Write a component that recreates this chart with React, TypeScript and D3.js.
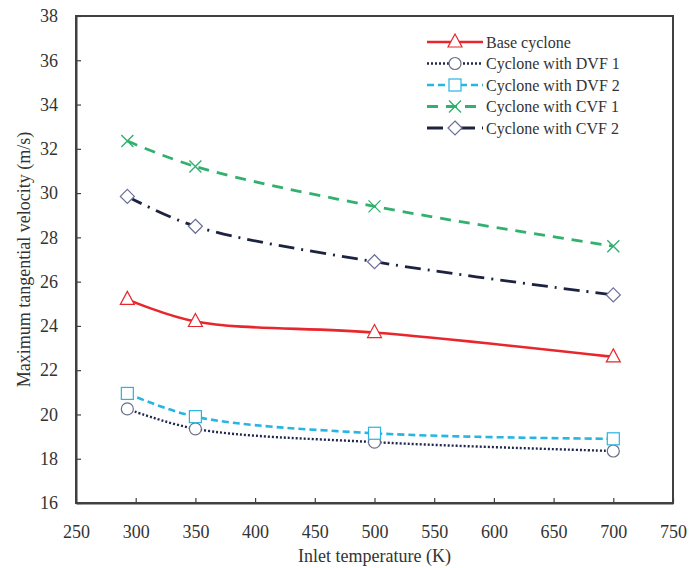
import { useEffect, useRef } from "react";
import * as d3 from "d3";

// inlet temperature (K)
const temps = [293, 350, 500, 700];

// maximum tangential velocity (m/s)
const baseCyclone = [25.2, 24.2, 23.7, 22.6];
const dvf1 = [20.25, 19.35, 18.75, 18.35];
const dvf2 = [20.95, 19.9, 19.15, 18.9];
const cvf1 = [32.35, 31.2, 29.4, 27.6];
const cvf2 = [29.85, 28.5, 26.9, 25.4];

const seriesNames = [
  "Base cyclone",
  "Cyclone with DVF 1",
  "Cyclone with DVF 2",
  "Cyclone with CVF 1",
  "Cyclone with CVF 2",
];

const xTicks = [250, 300, 350, 400, 450, 500, 550, 600, 650, 700, 750];
const yTicks = [16, 18, 20, 22, 24, 26, 28, 30, 32, 34, 36, 38];

const W = 689;
const H = 568;
const FONT = "'Liberation Serif', 'Times New Roman', serif";

const App = () => {
  const svgRef = useRef(null);

  useEffect(() => {
    const svg = d3.select(svgRef.current);
    svg.selectAll("*").remove();

    const margin = { top: 16, right: 16, bottom: 65, left: 76 };
    const width = W - margin.left - margin.right;
    const height = H - margin.top - margin.bottom;

    const x = d3.scaleLinear().domain([250, 750]).range([0, width]);
    const y = d3.scaleLinear().domain([16, 38]).range([height, 0]);

    const g = svg
      .append("g")
      .attr("transform", `translate(${margin.left}, ${margin.top})`);

    const styles = [
      { color: "#e8262b", dash: null, width: 2.6, marker: "triangle", mcolor: "#e8262b" },
      { color: "#1f2750", dash: "2,2", width: 2.4, marker: "circle", mcolor: "#6a6f86" },
      { color: "#27b5e2", dash: "7,4", width: 2.6, marker: "square", mcolor: "#27b5e2" },
      { color: "#32b070", dash: "11,8", width: 2.8, marker: "x", mcolor: "#32b070" },
      { color: "#1c2340", dash: "16,7,2,7", width: 2.8, marker: "diamond", mcolor: "#6a6f96" },
    ];
    const allValues = [baseCyclone, dvf1, dvf2, cvf1, cvf2];

    const line = d3
      .line()
      .x((d) => x(d[0]))
      .y((d) => y(d[1]))
      .curve(d3.curveCatmullRom.alpha(0.5));

    const drawMarker = (sel, type, cx, cy, color) => {
      if (type === "triangle") {
        sel
          .append("path")
          .attr("d", `M${cx},${cy - 8}L${cx + 7},${cy + 5}L${cx - 7},${cy + 5}Z`)
          .attr("fill", "#fff")
          .attr("stroke", color)
          .attr("stroke-width", 1.2);
      } else if (type === "circle") {
        sel
          .append("circle")
          .attr("cx", cx)
          .attr("cy", cy)
          .attr("r", 6)
          .attr("fill", "#fff")
          .attr("stroke", color)
          .attr("stroke-width", 1.2);
      } else if (type === "square") {
        sel
          .append("rect")
          .attr("x", cx - 6)
          .attr("y", cy - 6)
          .attr("width", 12)
          .attr("height", 12)
          .attr("fill", "#fff")
          .attr("stroke", color)
          .attr("stroke-width", 1.2);
      } else if (type === "diamond") {
        sel
          .append("path")
          .attr("d", `M${cx},${cy - 7}L${cx + 7},${cy}L${cx},${cy + 7}L${cx - 7},${cy}Z`)
          .attr("fill", "#fff")
          .attr("stroke", color)
          .attr("stroke-width", 1.2);
      } else if (type === "x") {
        sel
          .append("path")
          .attr("d", `M${cx - 6},${cy - 6}L${cx + 6},${cy + 6}M${cx - 6},${cy + 6}L${cx + 6},${cy - 6}`)
          .attr("fill", "none")
          .attr("stroke", color)
          .attr("stroke-width", 1.4);
      }
    };

    allValues.forEach((vals, i) => {
      const st = styles[i];
      const pts = temps.map((t, j) => [t, vals[j]]);
      g.append("path")
        .datum(pts)
        .attr("d", line)
        .attr("fill", "none")
        .attr("stroke", st.color)
        .attr("stroke-width", st.width)
        .attr("stroke-dasharray", st.dash);
    });

    allValues.forEach((vals, i) => {
      const st = styles[i];
      temps.forEach((t, j) => {
        drawMarker(g, st.marker, x(t), y(vals[j]), st.mcolor);
      });
    });

    // frame
    g.append("rect")
      .attr("width", width)
      .attr("height", height)
      .attr("fill", "none")
      .attr("stroke", "#404040")
      .attr("stroke-width", 2);

    // axes with inward ticks
    const xAxis = g
      .append("g")
      .attr("transform", `translate(0, ${height})`)
      .call(d3.axisBottom(x).tickValues(xTicks).tickSizeInner(-5).tickSizeOuter(0).tickPadding(22));
    const yAxis = g
      .append("g")
      .call(d3.axisLeft(y).tickValues(yTicks).tickSizeInner(-5).tickSizeOuter(0).tickPadding(18));

    [xAxis, yAxis].forEach((a) => {
      a.select(".domain").attr("stroke", "#404040").attr("stroke-width", 2);
      a.selectAll(".tick line").attr("stroke", "#404040").attr("stroke-width", 1.2);
      a.selectAll(".tick text")
        .attr("fill", "#333")
        .style("font-family", FONT)
        .style("font-size", "18px");
    });

    g.append("text")
      .attr("x", width / 2)
      .attr("y", height + 59)
      .attr("text-anchor", "middle")
      .style("font-family", FONT)
      .style("font-size", "18px")
      .attr("fill", "#333")
      .text("Inlet temperature (K)");

    g.append("text")
      .attr("transform", "rotate(-90)")
      .attr("x", -height / 2)
      .attr("y", -46)
      .attr("text-anchor", "middle")
      .style("font-family", FONT)
      .style("font-size", "18px")
      .attr("fill", "#333")
      .text("Maximum tangential velocity (m/s)");

    // legend
    const legend = svg.append("g").attr("transform", "translate(427, 42)");
    seriesNames.forEach((name, i) => {
      const st = styles[i];
      const row = legend.append("g").attr("transform", `translate(0, ${i * 21.5})`);
      row
        .append("line")
        .attr("x1", 0)
        .attr("x2", 56)
        .attr("y1", 0)
        .attr("y2", 0)
        .attr("stroke", st.color)
        .attr("stroke-width", st.width)
        .attr("stroke-dasharray", st.dash);
      drawMarker(row, st.marker, 28, 0, st.mcolor);
      row
        .append("text")
        .attr("x", 59)
        .attr("y", 0)
        .attr("dy", "0.35em")
        .style("font-family", FONT)
        .style("font-size", "16px")
        .attr("fill", "#333")
        .text(name);
    });
  }, []);

  return (
    <svg
      ref={svgRef}
      width={W}
      height={H}
      style={{ position: "absolute", left: 0, top: 0, background: "#fff" }}
    />
  );
};

export default App;
